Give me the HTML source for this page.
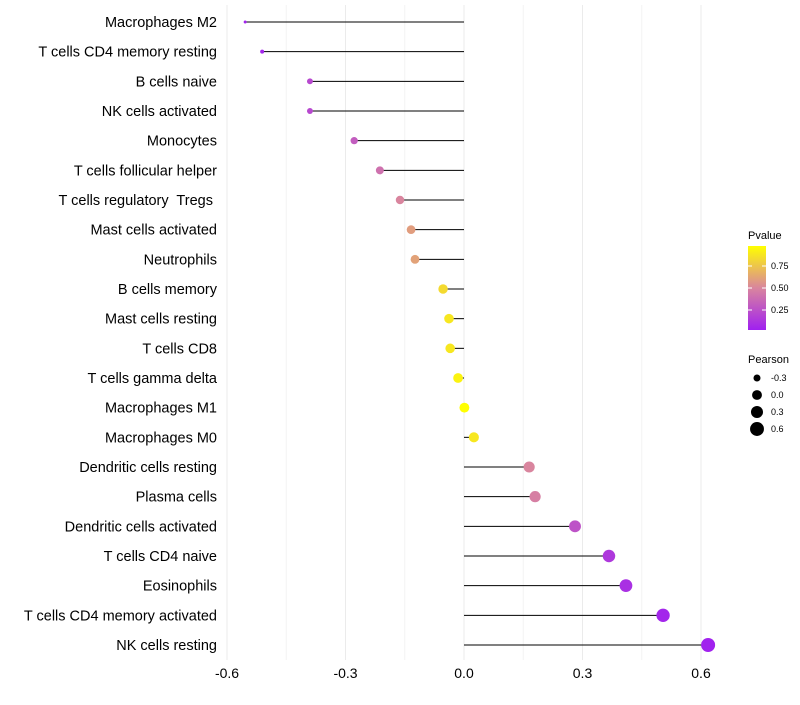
<!DOCTYPE html>
<html><head><meta charset="utf-8"><style>body{margin:0;background:#fff}svg{font-family:"Liberation Sans",sans-serif}text{white-space:pre}</style></head>
<body>
<svg id="c" width="800" height="700" xml:space="preserve">
<defs><linearGradient id="pg" x1="0" y1="1" x2="0" y2="0">
<stop offset="0" stop-color="#a020f0"/><stop offset="0.5" stop-color="#d9859e"/><stop offset="1" stop-color="#ffff00"/></linearGradient></defs>
</svg>
<script>
const categories=["Macrophages M2","T cells CD4 memory resting","B cells naive","NK cells activated","Monocytes","T cells follicular helper","T cells regulatory  Tregs ","Mast cells activated","Neutrophils","B cells memory","Mast cells resting","T cells CD8","T cells gamma delta","Macrophages M1","Macrophages M0","Dendritic cells resting","Plasma cells","Dendritic cells activated","T cells CD4 naive","Eosinophils","T cells CD4 memory activated","NK cells resting"];
const pearson=[-0.554,-0.511,-0.390,-0.390,-0.278,-0.213,-0.162,-0.134,-0.124,-0.053,-0.038,-0.035,-0.015,0.001,0.025,0.165,0.18,0.281,0.367,0.41,0.504,0.618];
const pvalue=[0.02,0.03,0.2,0.2,0.3,0.4,0.5,0.6,0.62,0.85,0.9,0.9,0.95,1.0,0.9,0.5,0.47,0.25,0.12,0.08,0.03,0.01];
const xTicks=[-0.6,-0.3,0.0,0.3,0.6];
const xTickLabels=["-0.6","-0.3","0.0","0.3","0.6"];
const sizeLegend=[-0.3,0.0,0.3,0.6];
const sizeLegendLabels=["-0.3","0.0","0.3","0.6"];
const pLegend=[0.25,0.5,0.75];
const pLegendLabels=["0.25","0.50","0.75"];

const svg=document.getElementById('c');const NS="http://www.w3.org/2000/svg";
function mk(t,a,p){const e=document.createElementNS(NS,t);for(const k in a)e.setAttribute(k,a[k]);(p||svg).appendChild(e);return e;}
const x=v=>464+v*395;
const y=i=>22+i*(623/21);
const pmin=Math.min(...pearson),pmax=Math.max(...pearson);
const r=v=>Math.sqrt(2.25+(v-pmin)/(pmax-pmin)*46.75);
function col(p){const s=[[160,32,240],[217,133,158],[255,255,0]];let a,b,t;if(p<0.5){a=s[0];b=s[1];t=p/0.5}else{a=s[1];b=s[2];t=(p-0.5)/0.5}return `rgb(${a.map((c,i)=>Math.round(c+(b[i]-c)*t)).join(',')})`;}
for(let k=0;k<xTicks.length;k++){
  const g=mk('line',{x1:x(xTicks[k]),x2:x(xTicks[k]),y1:5,y2:660,stroke:'#ebebeb','stroke-width':1});
  
  
  if(k<xTicks.length-1){const m=(xTicks[k]+xTicks[k+1])/2;
  const gm=mk('line',{x1:x(m),x2:x(m),y1:5,y2:660,stroke:'#f4f4f4','stroke-width':1});
  
  }
  const tl=mk('text',{x:x(xTicks[k]),y:678,'text-anchor':'middle','font-size':14,fill:'#000'});tl.textContent=xTickLabels[k];
  
  
}
categories.forEach((c,i)=>{
  const t=mk('text',{x:217,y:y(i)+5,'text-anchor':'end','font-size':14.5,fill:'#000'});t.textContent=c;
  
  
  const l=mk('line',{x1:x(0),x2:x(pearson[i]),y1:y(i),y2:y(i),stroke:'#000','stroke-width':1});
  
  
  const d=mk('circle',{cx:x(pearson[i]),cy:y(i),r:r(pearson[i]),fill:col(pvalue[i])});
  
  
});
const pt=mk('text',{x:748,y:239,'font-size':11});pt.textContent="Pvalue";


const cb=mk('rect',{x:748,y:246,width:18,height:84,fill:'url(#pg)'});


const py=p=>332-p*88;
pLegend.forEach((p,i)=>{
  mk('line',{x1:748,x2:752,y1:py(p),y2:py(p),stroke:'#fff'});mk('line',{x1:762,x2:766,y1:py(p),y2:py(p),stroke:'#fff'});
  const t=mk('text',{x:771,y:py(p)+3,'font-size':9});t.textContent=pLegendLabels[i];
  
  
});
const st=mk('text',{x:748,y:363,'font-size':11});st.textContent="Pearson";


sizeLegend.forEach((v,i)=>{
  const cy=378+i*17;
  const c=mk('circle',{cx:757,cy:cy,r:r(v),fill:'#000'});
  
  
  const t=mk('text',{x:771,y:cy+3,'font-size':9});t.textContent=sizeLegendLabels[i];
  
  
});
</script>
</body></html>
